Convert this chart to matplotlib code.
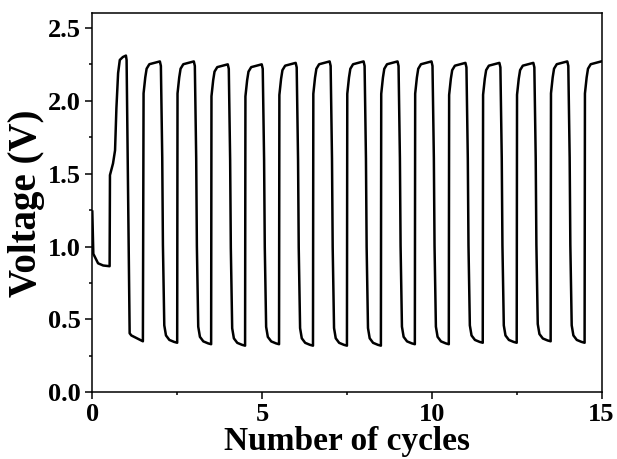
import numpy as np
import matplotlib.pyplot as plt
from matplotlib.ticker import MultipleLocator

# formation: rest, first charge and first discharge
init_cycles = [0.0, 0.03, 0.17, 0.32, 0.51, 0.52, 0.61, 0.67, 0.71, 0.76,
               0.81, 0.90, 0.99, 1.01, 1.10, 1.15, 1.49]
init_volts = [1.24, 0.95, 0.885, 0.87, 0.865, 1.49, 1.57, 1.66, 1.95, 2.19,
              2.28, 2.30, 2.31, 2.28, 0.405, 0.39, 0.35]

# end-of-charge voltage at cycles 2..15
top_volts = [2.27, 2.27, 2.25, 2.25, 2.26, 2.27, 2.27, 2.27, 2.27,
             2.26, 2.26, 2.26, 2.27, 2.27]
# end-of-discharge voltage at cycles 2.5..14.5
bottom_volts = [0.34, 0.33, 0.32, 0.33, 0.32, 0.32, 0.32, 0.33, 0.33,
                0.34, 0.34, 0.35, 0.34]

# shape of one charge / discharge step (time offset, fraction of the swing)
charge_dt = [0.01, 0.06, 0.10, 0.18, 0.49]
charge_frac = [0.886, 0.943, 0.974, 0.990, 1.0]
discharge_dt = [0.02, 0.06, 0.08, 0.12, 0.17, 0.27, 0.41, 0.50]
discharge_frac = [0.984, 0.658, 0.347, 0.062, 0.026, 0.010, 0.003, 0.0]


def build_curve():
    x = list(init_cycles)
    v = list(init_volts)
    low = init_volts[-1]
    for k, top in enumerate(top_volts):
        start = 1.5 + k
        for dt, f in zip(charge_dt, charge_frac):
            x.append(start + dt)
            v.append(low + f * (top - low))
        if k < len(bottom_volts):
            low = bottom_volts[k]
            for dt, f in zip(discharge_dt, discharge_frac):
                x.append(start + 0.5 + dt)
                v.append(low + f * (top - low))
    return np.array(x), np.array(v)


plt.rcParams['font.family'] = ['Liberation Serif', 'DejaVu Serif']
plt.rcParams['font.weight'] = 'bold'

fig = plt.figure(figsize=(6.17, 4.59), dpi=100)
ax = fig.add_axes([0.1496, 0.1453, 0.8254, 0.8257])

cyc, volt = build_curve()
ax.plot(cyc, volt, color='black', lw=1.8)

ax.set_xlim(0, 15)
ax.set_ylim(0, 2.6)
ax.xaxis.set_major_locator(MultipleLocator(5))
ax.xaxis.set_minor_locator(MultipleLocator(2.5))
ax.yaxis.set_major_locator(MultipleLocator(0.5))
ax.yaxis.set_minor_locator(MultipleLocator(0.25))
ax.yaxis.set_major_formatter(plt.FormatStrFormatter('%.1f'))
ax.tick_params(which='major', direction='out', length=5, width=1.1,
               labelsize=19, pad=3)
ax.tick_params(which='minor', direction='out', length=2.5, width=1.1)
for s in ax.spines.values():
    s.set_linewidth(1.1)

ax.set_xlabel('Number of cycles', fontsize=24, fontweight='bold', labelpad=0)
ax.set_ylabel('Voltage (V)', fontsize=28, fontweight='bold', labelpad=2)

fig.savefig('out.png', dpi=100)
